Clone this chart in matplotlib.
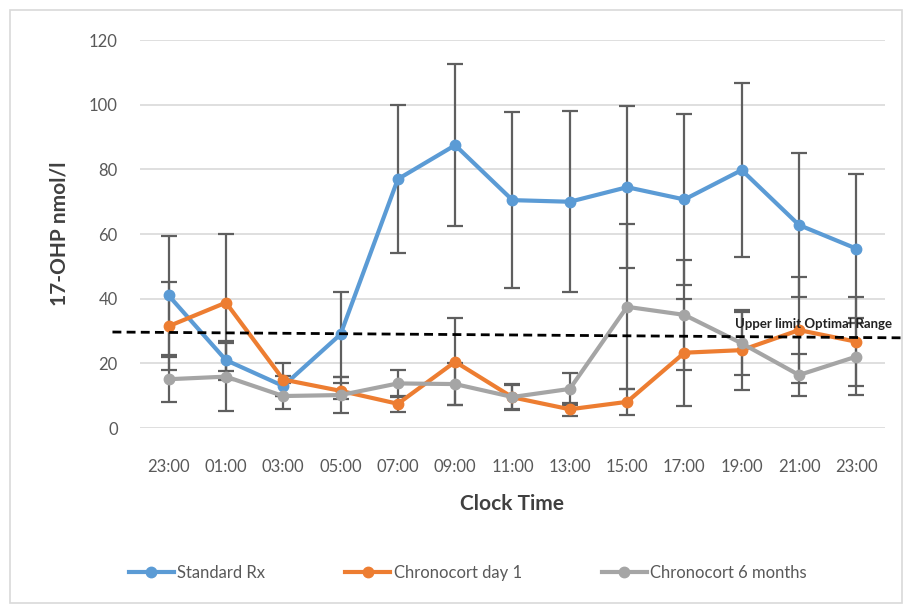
import matplotlib.pyplot as plt
from matplotlib.patches import Rectangle

# clock times on the x axis
times = ["23:00", "01:00", "03:00", "05:00", "07:00", "09:00", "11:00",
         "13:00", "15:00", "17:00", "19:00", "21:00", "23:00"]

# mean 17-OHP (nmol/l), with error bar half-widths
standard_rx = [41, 21, 13, 29, 77, 87.5, 70.5, 70, 74.5, 70.7, 79.8, 62.8, 55.5]
standard_rx_err = [18.5, 6, 3, 13.2, 23, 25, 27.3, 28, 25, 26.3, 26.8, 22.2, 23.1]

chrono_day1 = [31.5, 38.8, 15, 11.5, 7.5, 20.5, 9.5, 5.8, 8.1, 23.3, 24.1, 30.3, 26.7]
chrono_day1_err = [13.6, 21.2, 5, 2.5, 2.5, 13.5, 4, 2, 4, 16.5, 12.3, 16.3, 13.8]

chrono_6m = [15.1, 15.9, 9.9, 10.2, 13.8, 13.6, 9.6, 12.1, 37.5, 35, 26.2, 16.4, 22.1]
chrono_6m_err = [7, 10.5, 4, 5.5, 4.2, 6.5, 3.8, 5, 25.5, 17, 9.7, 6.5, 11.8]

# dashed "upper limit" line, left and right ends (slightly tilted in the original)
upper_limit = [29.7, 27.9]
upper_limit_x = [-0.98, 12.82]

plt.rcParams['font.family'] = ['Lato', 'DejaVu Sans']

fig = plt.figure(figsize=(9.06, 6.08), dpi=100)
fig.patches.append(Rectangle((0.011, 0.008), 0.985, 0.975, transform=fig.transFigure,
                             fill=False, edgecolor='#d9d9d9', linewidth=1.2))
ax = fig.add_axes([0.1545, 0.296, 0.8223, 0.638])

x = list(range(len(times)))
series = [
    (standard_rx, standard_rx_err, '#5b9bd5', 'Standard Rx'),
    (chrono_day1, chrono_day1_err, '#ed7d31', 'Chronocort day 1'),
    (chrono_6m, chrono_6m_err, '#a5a5a5', 'Chronocort 6 months'),
]

for vals, err, col, lab in series:
    ax.errorbar(x, vals, yerr=err, fmt='none', ecolor='#5f5f5f', elinewidth=1.6,
                capsize=6, capthick=1.6, zorder=2)
for vals, err, col, lab in series:
    ax.plot(x, vals, color=col, linewidth=3, marker='o', markersize=7.5,
            label=lab, zorder=3)

ax.plot(upper_limit_x, upper_limit, color='black', linestyle=(0, (3.2, 1.9)),
        linewidth=2.0, clip_on=False, zorder=4)
ax.text(12.62, 30.4, 'Upper limit Optimal Range', ha='right', va='bottom',
        fontsize=9.5, fontweight='bold', color='#222222', zorder=5)

ax.set_xlim(-0.5, len(times) - 0.5)
ax.set_ylim(0, 120)
ax.set_yticks(range(0, 121, 20))
ax.set_xticks(x)
ax.set_xticklabels(times)
ax.tick_params(length=0, labelsize=12, labelcolor='#595959')
ax.tick_params(axis='x', pad=22)
ax.tick_params(axis='y', pad=16)
ax.grid(axis='y', color='#d9d9d9', linewidth=1.2)
ax.set_axisbelow(True)
for s in ax.spines.values():
    s.set_visible(False)

ax.set_ylabel('17-OHP nmol/l', fontsize=15, fontweight='bold', color='#404040', labelpad=14)
ax.set_xlabel('Clock Time', fontsize=15, fontweight='bold', color='#404040', labelpad=14)

leg = ax.legend(loc='upper center', bbox_to_anchor=(0.44, -0.315), ncol=3, frameon=False,
                fontsize=12, labelcolor='#595959', handlelength=2.7, columnspacing=4.8,
                handletextpad=0.2)

fig.savefig('out.png', dpi=100)
